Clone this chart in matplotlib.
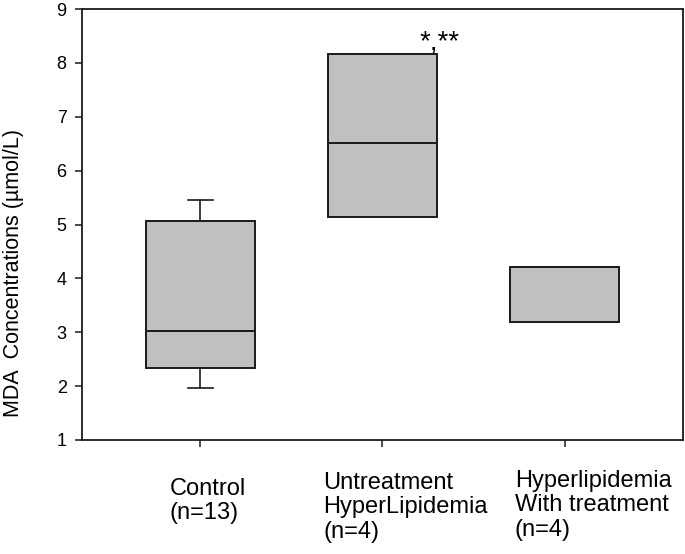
import matplotlib
matplotlib.use('Agg')
import matplotlib.pyplot as plt

plt.rcParams['font.family'] = ['Liberation Sans', 'DejaVu Sans']

# Data
groups = ['Control\n(n=13)', 'Untreatment\nHyperLipidemia\n(n=4)', 'Hyperlipidemia\nWith treatment\n(n=4)']
q1 = [2.34, 5.14, 3.19]
med = [3.02, 6.51, 4.21]
q3 = [5.06, 8.16, 4.21]
whislo = [1.97, 5.14, 3.19]
whishi = [5.45, 8.16, 4.21]
has_caps = [True, False, False]
label_x = [0.83, 1.674, 2.726]
label_y = [-0.088, -0.074, -0.069]

fig = plt.figure(figsize=(6.85, 5.54), dpi=100)
ax = fig.add_axes([82 / 685, 1 - 440 / 554, 601 / 685, 431 / 554])

box_style = dict(facecolor='#c0c0c0', edgecolor='#1a1a1a', linewidth=1.4)
line_style = dict(color='#1a1a1a', linewidth=1.2)
med_style = dict(color='#1a1a1a', linewidth=1.4)

for i in range(len(groups)):
    stats = [dict(q1=q1[i], med=med[i], q3=q3[i], whislo=whislo[i], whishi=whishi[i], fliers=[])]
    ax.bxp(stats, positions=[i + 1], widths=0.6, patch_artist=True,
           showcaps=has_caps[i], capwidths=0.14, showfliers=False,
           boxprops=box_style, whiskerprops=line_style, capprops=line_style,
           medianprops=med_style, manage_ticks=False)

# significance marks
ax.text(2.315, 8.24, '*,**', ha='center', va='baseline', fontsize=20)

ax.set_xlim(0.35, 3.65)
ax.set_ylim(1, 9)
ax.set_yticks(range(1, 10))
ax.set_xticks([1, 2, 3])
ax.set_xticklabels([])

for x, y, g in zip(label_x, label_y, groups):
    ax.text(x, y, g, transform=ax.get_xaxis_transform(), ha='left', va='top',
            fontsize=17, linespacing=1.15)

ax.set_ylabel('MDA  Concentrations (\u00b5mol/L)', fontsize=15.5)
ax.yaxis.set_label_coords(-0.0965, 0.387)

for s in ax.spines.values():
    s.set_linewidth(1.3)
    s.set_color('#1a1a1a')
ax.tick_params(axis='both', direction='out', length=5, width=1.1, color='#1a1a1a')
ax.tick_params(axis='y', labelsize=13, pad=6)

fig.savefig('out.png', dpi=100)
